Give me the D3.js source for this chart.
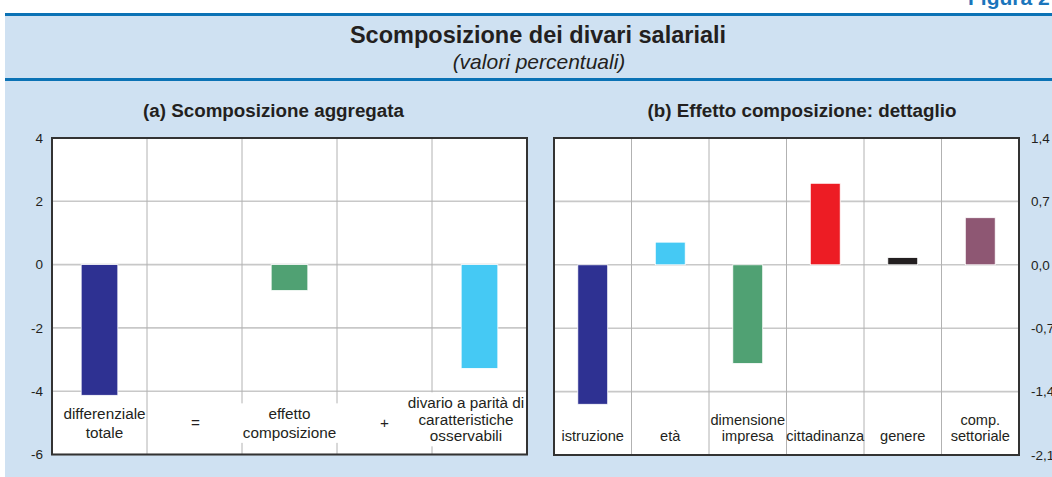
<!DOCTYPE html>
<html>
<head>
<meta charset="utf-8">
<script src="https://cdn.jsdelivr.net/npm/d3@7"></script>
<style>
  body { margin: 0; background: #fff; }
  svg text { font-family: "Liberation Sans", Arial, sans-serif; fill: #231f20; }
</style>
</head>
<body>
<div id="graph"></div>
<script>
// Data
const aggLabels = [["differenziale", "totale"], ["="], ["effetto", "composizione"], ["+"], ["divario a parità di", "caratteristiche", "osservabili"]];
const aggValues = [-4.13, null, -0.82, null, -3.28];
const aggColors = ["#2e3192", null, "#50a173", null, "#45c9f4"];
const aggTicks = [-6, -4, -2, 0, 2, 4];

const detLabels = [["istruzione"], ["età"], ["dimensione", "impresa"], ["cittadinanza"], ["genere"], ["comp.", "settoriale"]];
const detValues = [-1.54, 0.25, -1.09, 0.90, 0.08, 0.52];
const detColors = ["#2e3192", "#45c9f4", "#50a173", "#ed1c24", "#231f20", "#8e5773"];
const detTicks = [-2.1, -1.4, -0.7, 0, 0.7, 1.4];

const width = 1052, height = 477;

let svg = d3.select("#graph")
    .append("svg")
    .attr("width", width)
    .attr("height", height);

// light blue background box and the two blue rules
svg.append("rect").attr("x", 5).attr("y", 14).attr("width", width - 5).attr("height", height - 14).attr("fill", "#cfe1f2");
svg.append("rect").attr("x", 5).attr("y", 13).attr("width", width - 5).attr("height", 3).attr("fill", "#0b72b5");
svg.append("rect").attr("x", 5).attr("y", 78).attr("width", width - 5).attr("height", 3).attr("fill", "#0b72b5");

svg.append("text")
    .attr("x", 968).attr("y", 5)
    .style("font-size", "21px").style("font-weight", "bold").style("fill", "#1b75bb")
    .text("Figura 2");

svg.append("text")
    .attr("x", 538).attr("y", 43)
    .attr("text-anchor", "middle")
    .style("font-size", "23.5px").style("font-weight", "bold")
    .text("Scomposizione dei divari salariali");

svg.append("text")
    .attr("x", 539).attr("y", 69)
    .attr("text-anchor", "middle")
    .style("font-size", "21px").style("font-style", "italic")
    .text("(valori percentuali)");

function drawPanel(opts) {
    let g = svg.append("g");

    let x = d3.scaleBand()
        .domain(d3.range(opts.labels.length))
        .range([opts.left, opts.right]);

    let y = d3.scaleLinear()
        .domain([opts.ticks[0], opts.ticks[opts.ticks.length - 1]])
        .range([opts.bottom, opts.top]);

    // white plot area
    g.append("rect")
        .attr("x", opts.left).attr("y", opts.top)
        .attr("width", opts.right - opts.left).attr("height", opts.bottom - opts.top)
        .attr("fill", "#fff");

    // horizontal grid
    g.selectAll(".hgrid").data(opts.ticks).enter().append("line")
        .attr("x1", opts.left).attr("x2", opts.right)
        .attr("y1", d => y(d)).attr("y2", d => y(d))
        .attr("stroke", "#c8c8c8").attr("stroke-width", 1.6);

    // vertical grid between categories
    g.selectAll(".vgrid").data(d3.range(1, opts.labels.length)).enter().append("line")
        .attr("x1", d => x(d)).attr("x2", d => x(d))
        .attr("y1", opts.top).attr("y2", opts.bottom)
        .attr("stroke", "#b2b2b2").attr("stroke-width", 1);

    // bars
    let bw = x.bandwidth() * 0.386;
    let data = opts.values.map((v, i) => ({v: v, i: i, c: opts.colors[i]})).filter(d => d.v !== null);
    g.selectAll(".bar").data(data).enter().append("rect")
        .attr("x", d => x(d.i) + (x.bandwidth() - bw) / 2)
        .attr("y", d => y(Math.max(0, d.v)))
        .attr("width", bw)
        .attr("height", d => Math.abs(y(d.v) - y(0)))
        .attr("fill", d => d.c)
        .attr("stroke", "#ffffff").attr("stroke-width", 0.8);

    // category labels inside plot, near the bottom
    opts.labels.forEach(function (lines, i) {
        let cx = x(i) + x.bandwidth() / 2 + (opts.labelDx ? opts.labelDx[i] : 0);
        let lg = g.append("g");
        lines.forEach(function (line, j) {
            lg.append("text")
                .attr("x", cx).attr("y", opts.labelY(lines.length, j))
                .attr("text-anchor", "middle")
                .attr("dy", "0.35em")
                .style("font-size", opts.labelSize)
                .text(line);
        });
        // white box behind some labels (it breaks the grid like the original)
        if (opts.labelBoxes && opts.labelBoxes.includes(i)) {
            let bb = lg.node().getBBox();
            lg.insert("rect", "text")
                .attr("x", bb.x - 2).attr("y", bb.y - 2)
                .attr("width", bb.width + 4).attr("height", bb.height + 4)
                .attr("fill", "#fff");
        }
    });

    // frame
    g.append("rect")
        .attr("x", opts.left).attr("y", opts.top)
        .attr("width", opts.right - opts.left).attr("height", opts.bottom - opts.top)
        .attr("fill", "none").attr("stroke", "#333333").attr("stroke-width", 2);

    // tick labels
    g.selectAll(".tick").data(opts.ticks).enter().append("text")
        .attr("x", opts.tickX)
        .attr("y", d => y(d))
        .attr("dy", "0.35em")
        .attr("text-anchor", opts.tickAnchor)
        .style("font-size", "13.5px")
        .text(opts.fmt);

    // panel title
    g.append("text")
        .attr("x", opts.titleX).attr("y", 117)
        .attr("text-anchor", "middle")
        .style("font-size", "18.8px").style("font-weight", "bold")
        .text(opts.title);
}

drawPanel({
    labels: aggLabels, values: aggValues, colors: aggColors, ticks: aggTicks,
    left: 52, right: 527, top: 138, bottom: 454.5,
    tickX: 43, tickAnchor: "end",
    fmt: d => String(d),
    labelY: (n, j) => n === 1 ? 423 : (n === 2 ? 414 + j * 18.5 : 403 + j * 16.5),
    labelDx: [5, 1, 0, 0, -13.5],
    labelSize: "15.3px", labelBoxes: [2, 4],
    titleX: 273.5,
    title: "(a) Scomposizione aggregata"
});

drawPanel({
    labels: detLabels, values: detValues, colors: detColors, ticks: detTicks,
    left: 554, right: 1019, top: 138, bottom: 455,
    tickX: 1031, tickAnchor: "start",
    fmt: d => d.toFixed(1).replace(".", ","),
    labelY: (n, j) => 436 - (n - 1 - j) * 16,
    labelSize: "14.6px",
    titleX: 802,
    title: "(b) Effetto composizione: dettaglio"
});
</script>
</body>
</html>
